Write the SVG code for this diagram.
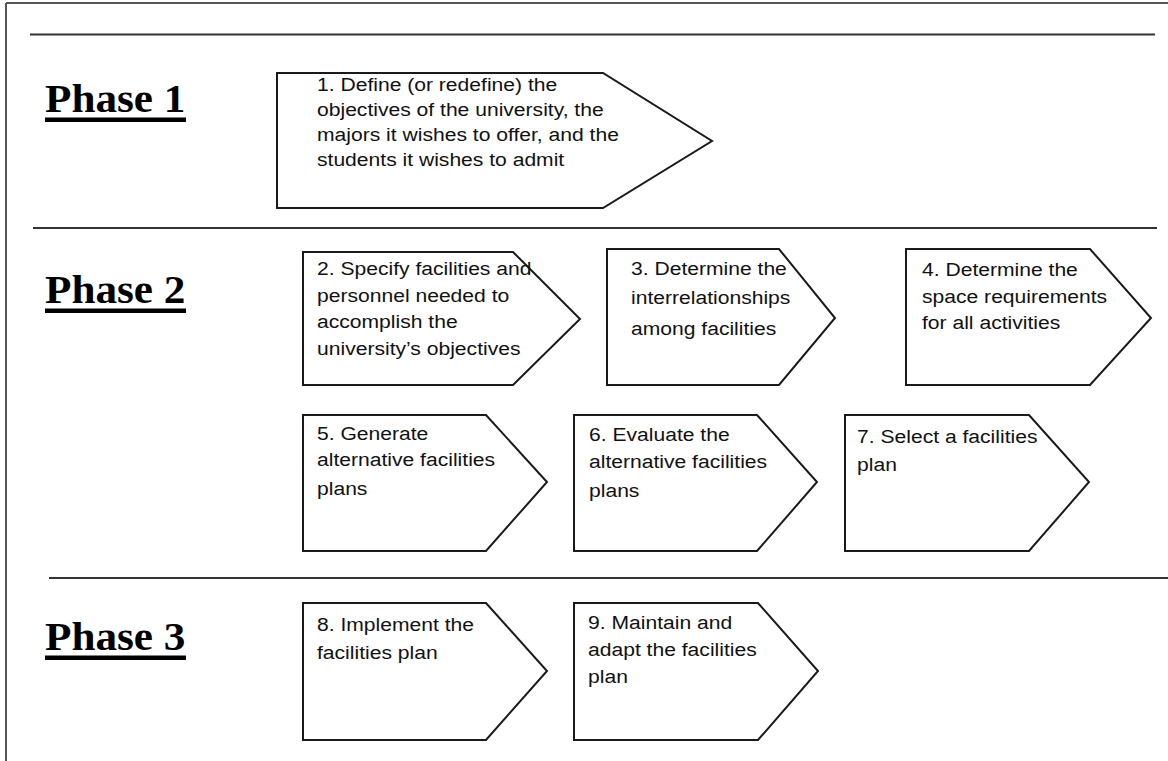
<svg xmlns="http://www.w3.org/2000/svg" width="1168" height="761" viewBox="0 0 1168 761">
<style>
  .frame { stroke: #555; stroke-width: 2; fill: none; }
  .sep { stroke: #333; stroke-width: 2; fill: none; }
  .box { fill: #fff; stroke: #1a1a1a; stroke-width: 2; stroke-linejoin: miter; }
  .t { font-family: "Liberation Sans", Arial, sans-serif; font-size: 19px; fill: #111; }
  .ph { font-family: "Liberation Serif", "Times New Roman", serif; font-weight: bold; font-size: 40px; fill: #000; }
  .ul { fill: #000; }
</style>
<rect x="0" y="0" width="1168" height="761" fill="#fff"/>

<g id="frame">
  <line class="frame" x1="6" y1="3" x2="1168" y2="3"/>
  <line class="frame" x1="6" y1="3" x2="6" y2="761"/>
</g>

<g id="separators">
  <line class="sep" x1="30" y1="34.5" x2="1155" y2="34.5"/>
  <line class="sep" x1="33" y1="228" x2="1157" y2="228"/>
  <line class="sep" x1="49" y1="578" x2="1168" y2="578"/>
</g>

<g id="phase-labels">
  <g id="phase1">
    <text class="ph" transform="translate(45,0) scale(1.08,1)" x="0" y="112">Phase 1</text>
    <rect class="ul" x="45" y="117.5" width="141" height="4.5"/>
  </g>
  <g id="phase2">
    <text class="ph" transform="translate(45,0) scale(1.08,1)" x="0" y="303.5">Phase 2</text>
    <rect class="ul" x="45" y="308.5" width="141" height="4.5"/>
  </g>
  <g id="phase3">
    <text class="ph" transform="translate(45,0) scale(1.08,1)" x="0" y="650">Phase 3</text>
    <rect class="ul" x="45" y="655.5" width="141" height="4.5"/>
  </g>
</g>

<g id="connectors"></g>

<g id="n1">
  <polygon class="box" points="277,73 603,73 712,141 603,208 277,208"/>
  <text class="t" transform="translate(317,0) scale(1.11,1)">
    <tspan x="0" y="91">1. Define (or redefine) the</tspan>
    <tspan x="0" y="116">objectives of the university, the</tspan>
    <tspan x="0" y="141">majors it wishes to offer, and the</tspan>
    <tspan x="0" y="166.5">students it wishes to admit</tspan>
  </text>
</g>

<g id="n2">
  <polygon class="box" points="303,252 513,252 580,319 513,385 303,385"/>
  <text class="t" transform="translate(317,0) scale(1.11,1)">
    <tspan x="0" y="275">2. Specify facilities and</tspan>
    <tspan x="0" y="302">personnel needed to</tspan>
    <tspan x="0" y="328.5">accomplish the</tspan>
    <tspan x="0" y="355">university’s objectives</tspan>
  </text>
</g>

<g id="n3">
  <polygon class="box" points="607,249 779,249 835,318 779,385 607,385"/>
  <text class="t" transform="translate(631,0) scale(1.11,1)">
    <tspan x="0" y="275">3. Determine the</tspan>
    <tspan x="0" y="304">interrelationships</tspan>
    <tspan x="0" y="335">among facilities</tspan>
  </text>
</g>

<g id="n4">
  <polygon class="box" points="906,249 1090,249 1151,318 1090,385 906,385"/>
  <text class="t" transform="translate(922,0) scale(1.11,1)">
    <tspan x="0" y="276.5">4. Determine the</tspan>
    <tspan x="0" y="303">space requirements</tspan>
    <tspan x="0" y="329">for all activities</tspan>
  </text>
</g>

<g id="n5">
  <polygon class="box" points="303,415 486,415 547,482 486,551 303,551"/>
  <text class="t" transform="translate(317,0) scale(1.11,1)">
    <tspan x="0" y="440.5">5. Generate</tspan>
    <tspan x="0" y="466.5">alternative facilities</tspan>
    <tspan x="0" y="495">plans</tspan>
  </text>
</g>

<g id="n6">
  <polygon class="box" points="574,415 757,415 817,482 757,551 574,551"/>
  <text class="t" transform="translate(589,0) scale(1.11,1)">
    <tspan x="0" y="441.5">6. Evaluate the</tspan>
    <tspan x="0" y="468">alternative facilities</tspan>
    <tspan x="0" y="497">plans</tspan>
  </text>
</g>

<g id="n7">
  <polygon class="box" points="845,415 1029,415 1089,482 1029,551 845,551"/>
  <text class="t" transform="translate(857,0) scale(1.11,1)">
    <tspan x="0" y="443">7. Select a facilities</tspan>
    <tspan x="0" y="471.5">plan</tspan>
  </text>
</g>

<g id="n8">
  <polygon class="box" points="303,603 486,603 547,671 486,740 303,740"/>
  <text class="t" transform="translate(317,0) scale(1.11,1)">
    <tspan x="0" y="631.5">8. Implement the</tspan>
    <tspan x="0" y="659.5">facilities plan</tspan>
  </text>
</g>

<g id="n9">
  <polygon class="box" points="574,603 758,603 818,671 758,740 574,740"/>
  <text class="t" transform="translate(588,0) scale(1.11,1)">
    <tspan x="0" y="629.5">9. Maintain and</tspan>
    <tspan x="0" y="656.5">adapt the facilities</tspan>
    <tspan x="0" y="683.5">plan</tspan>
  </text>
</g>
</svg>
